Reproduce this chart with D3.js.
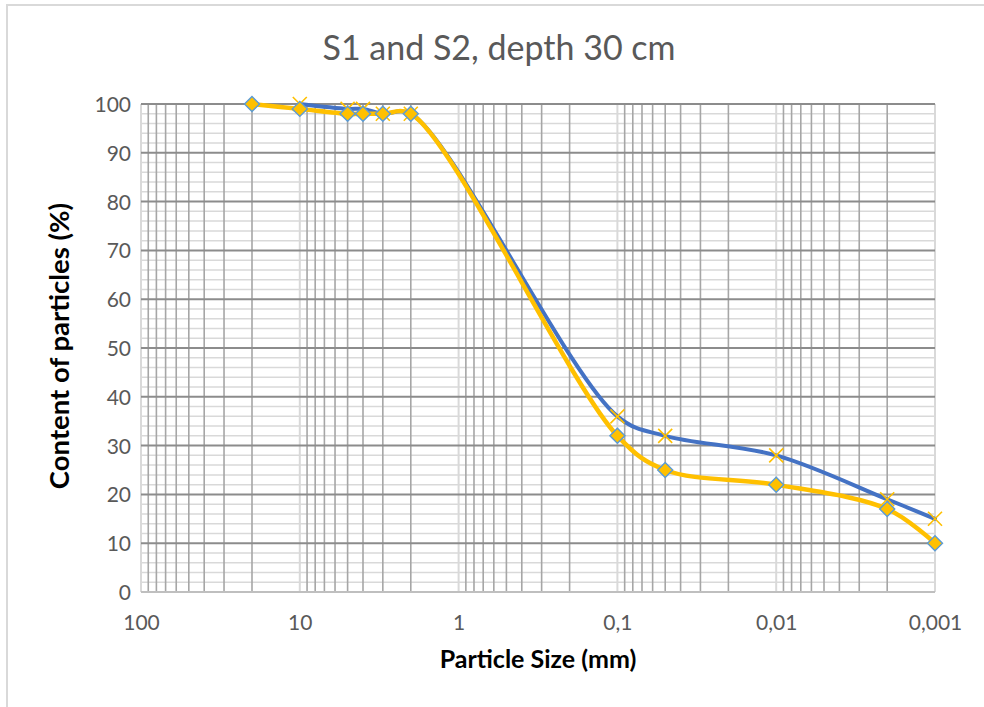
<!DOCTYPE html>
<html>
<head>
<meta charset="utf-8">
<script src="https://cdn.jsdelivr.net/npm/d3@7"></script>
<style>
  html, body { margin: 0; padding: 0; background: #ffffff; }
  svg { display: block; }
  .tick text { font-family: Lato, "Open Sans", sans-serif; fill: #595959; }
</style>
</head>
<body>
<svg id="chart" width="984" height="707"></svg>
<script>
// Grain size distribution, S1 and S2 at 30 cm depth
const chartTitle = "S1 and S2, depth 30 cm";
const xTitle = "Particle Size (mm)";
const yTitle = "Content of particles (%)";

// S1: particle size (mm) and passing content (%)
const s1Sizes  = [10, 5, 4, 3, 2, 0.1, 0.05, 0.01, 0.002, 0.001];
const s1Values = [100, 99, 99, 98, 98, 36, 32, 28, 19, 15];

// S2: particle size (mm) and passing content (%)
const s2Sizes  = [20, 10, 5, 4, 3, 2, 0.1, 0.05, 0.01, 0.002, 0.001];
const s2Values = [100, 99, 98, 98, 98, 98, 32, 25, 22, 17, 10];

// Axis ticks
const xTickValues = [100, 10, 1, 0.1, 0.01, 0.001];
const xTickLabels = ["100", "10", "1", "0,1", "0,01", "0,001"];
const yTickValues = [0, 10, 20, 30, 40, 50, 60, 70, 80, 90, 100];

const svg = d3.select("#chart");
const W = 984, H = 707;
const plot = { left: 141, right: 935, top: 104, bottom: 592 };

// Outer chart frame
svg.append("rect")
  .attr("x", 7).attr("y", 5)
  .attr("width", W).attr("height", H)
  .attr("fill", "#ffffff")
  .attr("stroke", "#d9d9d9").attr("stroke-width", 2);

const x = d3.scaleLog().domain([100, 0.001]).range([plot.left, plot.right]);
const y = d3.scaleLinear().domain([0, 100]).range([plot.bottom, plot.top]);

const grid = svg.append("g");

// Horizontal minor gridlines (every 2 %)
const yMinor = d3.range(0, 101, 2).filter(v => v % 10 !== 0);
grid.selectAll(".hminor").data(yMinor).join("line")
  .attr("x1", plot.left).attr("x2", plot.right)
  .attr("y1", d => y(d)).attr("y2", d => y(d))
  .attr("stroke", "#d9d9d9").attr("stroke-width", 1.5);

// Vertical major gridlines (decades)
grid.selectAll(".vmajor").data(xTickValues).join("line")
  .attr("x1", d => x(d)).attr("x2", d => x(d))
  .attr("y1", plot.top).attr("y2", plot.bottom)
  .attr("stroke", "#d9d9d9").attr("stroke-width", 2);

// Vertical minor gridlines (2..9 within each decade)
const xMinor = [];
[0.001, 0.01, 0.1, 1, 10].forEach(base => {
  for (let k = 2; k <= 9; k++) xMinor.push(base * k);
});
grid.selectAll(".vminor").data(xMinor).join("line")
  .attr("x1", d => x(d)).attr("x2", d => x(d))
  .attr("y1", plot.top).attr("y2", plot.bottom)
  .attr("stroke", "#a6a6a6").attr("stroke-width", 1.6);

// Horizontal major gridlines (every 10 %)
grid.selectAll(".hmajor").data(yTickValues.filter(v => v > 0)).join("line")
  .attr("x1", plot.left).attr("x2", plot.right)
  .attr("y1", d => y(d)).attr("y2", d => y(d))
  .attr("stroke", "#8c8c8c").attr("stroke-width", 2);

// Bottom axis line
svg.append("line")
  .attr("x1", plot.left).attr("x2", plot.right)
  .attr("y1", y(0)).attr("y2", y(0))
  .attr("stroke", "#bfbfbf").attr("stroke-width", 2);

// X axis labels
const xAxis = d3.axisBottom(x)
  .tickValues(xTickValues)
  .tickFormat((d, i) => xTickLabels[i])
  .tickSize(0).tickPadding(0);
const gx = svg.append("g").attr("transform", `translate(0,${plot.bottom})`).call(xAxis);
gx.select(".domain").remove();
gx.selectAll(".tick text")
  .attr("y", 38).attr("dy", null)
  .style("font-size", "21px");

// Y axis labels
const yAxis = d3.axisLeft(y).tickValues(yTickValues).tickSize(0).tickPadding(0);
const gy = svg.append("g").attr("transform", `translate(${plot.left - 10},0)`).call(yAxis);
gy.select(".domain").remove();
gy.selectAll(".tick text")
  .attr("x", 0).attr("dy", "0.36em")
  .style("font-size", "21px");

// Series lines
const curve = d3.curveCatmullRom.alpha(0.5);
const s1Points = s1Sizes.map((s, i) => [x(s), y(s1Values[i])]);
const s2Points = s2Sizes.map((s, i) => [x(s), y(s2Values[i])]);
const line = d3.line().curve(curve);

svg.append("path").attr("d", line(s1Points))
  .attr("fill", "none").attr("stroke", "#4472c4")
  .attr("stroke-width", 4).attr("stroke-linejoin", "round").attr("stroke-linecap", "round");
svg.append("path").attr("d", line(s2Points))
  .attr("fill", "none").attr("stroke", "#ffc000")
  .attr("stroke-width", 4.5).attr("stroke-linejoin", "round").attr("stroke-linecap", "round");

// S1 markers: crosses
const cr = 7;
svg.append("g").selectAll("path").data(s1Points).join("path")
  .attr("d", d => `M${d[0]-cr},${d[1]-cr}L${d[0]+cr},${d[1]+cr}M${d[0]-cr},${d[1]+cr}L${d[0]+cr},${d[1]-cr}`)
  .attr("fill", "none").attr("stroke", "#ffc000").attr("stroke-width", 1.6);

// S2 markers: diamonds
const dr = 7.5;
svg.append("g").selectAll("path").data(s2Points).join("path")
  .attr("d", d => `M${d[0]},${d[1]-dr}L${d[0]+dr},${d[1]}L${d[0]},${d[1]+dr}L${d[0]-dr},${d[1]}Z`)
  .attr("fill", "#ffc000").attr("stroke", "#5b9bd5").attr("stroke-width", 1.4);

// Titles
svg.append("text")
  .attr("x", 499).attr("y", 60)
  .attr("text-anchor", "middle")
  .style("font-family", "Lato, 'Open Sans', sans-serif")
  .style("font-size", "34px").attr("fill", "#595959")
  .text(chartTitle);

svg.append("text")
  .attr("x", (plot.left + plot.right) / 2).attr("y", 668)
  .attr("text-anchor", "middle")
  .style("font-family", "Lato, 'Open Sans', sans-serif")
  .style("font-weight", "bold")
  .style("font-size", "25px").attr("fill", "#000000")
  .text(xTitle);

svg.append("text")
  .attr("transform", `translate(69,${(plot.top + plot.bottom) / 2 - 2}) rotate(-90)`)
  .attr("text-anchor", "middle")
  .style("font-family", "Lato, 'Open Sans', sans-serif")
  .style("font-weight", "bold")
  .style("font-size", "27.5px").attr("fill", "#000000")
  .text(yTitle);
</script>
</body>
</html>
